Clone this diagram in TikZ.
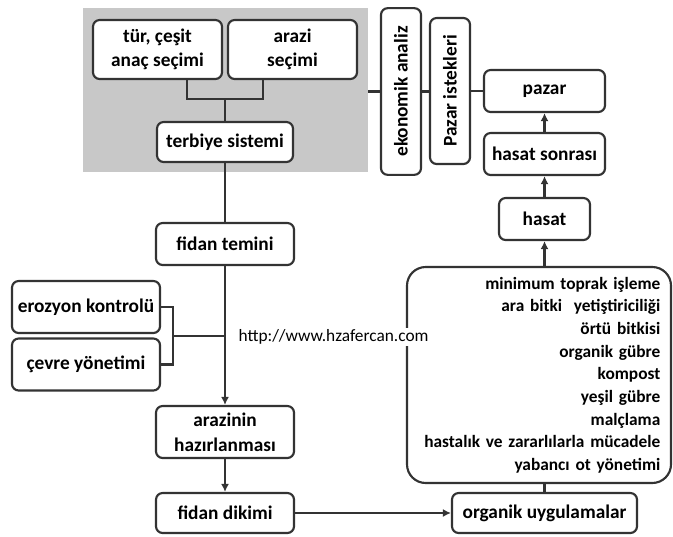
\documentclass[tikz,border=0pt]{standalone}
\usepackage{fontspec}
\setmainfont{Carlito}
\usetikzlibrary{arrows, arrows.meta, positioning}
\definecolor{boxline}{HTML}{333333}
\definecolor{selgray}{HTML}{C8C8C8}

\begin{document}
\begin{tikzpicture}[x=0.75pt, y=-0.75pt, >={Latex[length=6pt, width=6pt]},
    box/.style={draw=boxline, line width=1.6pt, rounded corners=5pt, fill=white, align=center, inner sep=2pt, font=\bfseries\fontsize{14.5}{18.5}\selectfont},
    vbox/.style={box, rotate=90, minimum height=30pt},
    link/.style={draw=boxline, line width=1.6pt}]
    \useasboundingbox (0,0) rectangle (673,536);

    \node (secim) [fill=selgray, minimum width=213.75pt, minimum height=123pt] at (225.5,90) {};
    \node (tur) [box, minimum width=96.75pt, minimum height=44.25pt] at (157.5,49.5) {tür, çeşit\\anaç seçimi};
    \node (arazi) [box, minimum width=96.75pt, minimum height=44.25pt] at (292.5,49.5) {arazi\\seçimi};
    \node (terbiye) [box, minimum width=102pt, minimum height=30pt] at (225,142) {terbiye sistemi};
    \node (temin) [box, minimum width=103.5pt, minimum height=31.5pt] at (225,244) {fidan temini};
    \node (erozyon) [box, minimum width=111pt, minimum height=39pt] at (86,307) {erozyon kontrolü};
    \node (cevre) [box, minimum width=111pt, minimum height=39pt] at (86,364.5) {çevre yönetimi};
    \node (hazirlik) [box, minimum width=103.5pt, minimum height=39pt] at (225,432) {arazinin\\hazırlanması};
    \node (dikim) [box, minimum width=103.5pt, minimum height=30pt] at (225,513) {fidan dikimi};

    \node (ekon) [vbox, minimum width=125pt] at (401,91.5) {ekonomik analiz};
    \node (istek) [vbox, minimum width=109.5pt] at (450,91) {Pazar istekleri};
    \node (pazar) [box, minimum width=90.75pt, minimum height=31.5pt] at (544.5,91) {pazar};
    \node (sonrasi) [box, minimum width=90.75pt, minimum height=31.5pt] at (544.5,154) {hasat sonrası};
    \node (hasat) [box, minimum width=68.25pt, minimum height=31.5pt] at (544.5,219) {hasat};
    \node (uyg) [box, rounded corners=14pt, minimum width=198pt, minimum height=162pt, text width=182pt, align=right, inner xsep=8pt, font=\bfseries\fontsize{13}{17}\selectfont] at (539,375)
        {minimum toprak işleme\\ara bitki\ \ yetiştiriciliği\\örtü bitkisi\\organik gübre\\kompost\\yeşil gübre\\malçlama\\hastalık ve zararlılarla mücadele\\yabancı ot yönetimi};
    \node (organik) [box, minimum width=138.75pt, minimum height=30pt] at (544.5,513) {organik uygulamalar};

    \node (url) [fill=white, anchor=west, inner sep=1pt, font=\fontsize{13}{15}\selectfont] at (237,337) {http://www.hzafercan.com};

    \coordinate (join) at (225,99);
    \coordinate (brk) at (173,336);
    \draw [link] ([xshift=22pt]tur.south) |- (join) -| ([xshift=-22pt]arazi.south);
    \draw [link] (join) -- (terbiye);
    \draw [link] (terbiye) -- (temin);
    \draw [link] (erozyon.east) -| (brk) |- (cevre.east);
    \draw [link] (brk) -- (brk -| temin);
    \draw [link, ->] (temin) -- (hazirlik);
    \draw [link, ->] (hazirlik) -- (dikim);
    \draw [link, ->] (dikim) -- (organik);
    \draw [link] (organik) -- (organik |- uyg.south);
    \draw [link, ->] (hasat |- uyg.north) -- (hasat);
    \draw [link, ->] (hasat) -- (sonrasi);
    \draw [link, ->] (sonrasi) -- (pazar);
    \draw [link] (ekon.north -| secim.east) -- (ekon.north);
    \draw [link] (ekon.south) -- (ekon.south -| istek.north);
    \draw [link] (istek.south) -- (istek.south -| pazar.west);
\end{tikzpicture}
\end{document}
